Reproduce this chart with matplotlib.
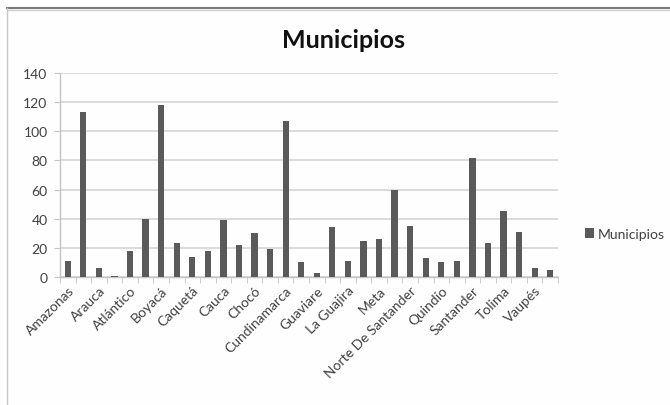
import matplotlib
matplotlib.use("Agg")
import matplotlib.pyplot as plt
from matplotlib.lines import Line2D
from matplotlib.patches import Patch
import numpy as np

departamentos = [
    "Amazonas", "Antioquia", "Arauca", "San Andrés", "Atlántico", "Bolívar",
    "Boyacá", "Caldas", "Caquetá", "Casanare", "Cauca", "Cesar", "Chocó",
    "Córdoba", "Cundinamarca", "Guainía", "Guaviare", "Huila", "La Guajira",
    "Magdalena", "Meta", "Nariño", "Norte De Santander", "Putumayo",
    "Quindío", "Risaralda", "Santander", "Sucre", "Tolima",
    "Valle Del Cauca", "Vaupés", "Vichada",
]
municipios = [
    11, 113, 6, 1, 18, 40,
    118, 23, 14, 18, 39, 22, 30,
    19, 107, 10, 3, 34, 11,
    25, 26, 60, 35, 13,
    10, 11, 82, 23, 45,
    31, 6, 5,
]
serie = "Municipios"
titulo = "Municipios"
y_ticks = [0, 20, 40, 60, 80, 100, 120, 140]

plt.rcParams["font.family"] = ["Lato", "DejaVu Sans"]

BAR = "#5a5a5a"
GRID = "#d4d4d4"
AXIS = "#c4c4c4"
TEXT = "#404040"

fig = plt.figure(figsize=(6.70, 4.06), dpi=100, facecolor="#fefefe")
ax = fig.add_axes([60 / 670, 1 - 278 / 406, 498 / 670, 204 / 406])
ax.set_facecolor("none")

x = np.arange(len(departamentos))
ax.bar(x, municipios, width=0.4, color=BAR, zorder=3, label=serie)

ax.set_xlim(-0.5, len(departamentos) - 0.5)
ax.set_ylim(0, 140)
ax.set_yticks(y_ticks)
ax.tick_params(axis="y", length=4, color=AXIS, labelsize=10, labelcolor=TEXT, pad=5)
ax.yaxis.grid(True, color=GRID, linewidth=1.2, zorder=0)

# labels on every other category, tick marks on category boundaries
ax.set_xticks(x[::2])
ax.set_xticklabels(departamentos[::2], rotation=45, ha="right",
                   rotation_mode="anchor", fontsize=10, color=TEXT)
ax.set_xticks(np.arange(-0.5, len(departamentos)), minor=True)
ax.tick_params(axis="x", which="major", length=0, pad=5)
ax.tick_params(axis="x", which="minor", length=4, color=AXIS)

for side in ("top", "right"):
    ax.spines[side].set_visible(False)
ax.spines["left"].set_color(AXIS)
ax.spines["bottom"].set_color(AXIS)
ax.spines["left"].set_linewidth(1.0)
ax.spines["bottom"].set_linewidth(1.0)

fig.text(343 / 670, 1 - 40 / 406, titulo, ha="center", va="center",
         fontsize=18, fontweight="bold", color="#111111")

handle = Patch(facecolor=BAR, edgecolor="none")
fig.legend([handle], [serie], loc="center left",
           bbox_to_anchor=(572 / 670, 1 - 235 / 406), frameon=False,
           fontsize=10, handlelength=0.65, handleheight=0.65,
           handletextpad=0.3, labelcolor=TEXT)

# chart frame
fig.add_artist(Line2D([7 / 670, 1], [1 - 9 / 406, 1 - 9 / 406],
                      transform=fig.transFigure, color="#7a7a7a", lw=1.5))
fig.add_artist(Line2D([7 / 670, 1], [1 - 10.5 / 406, 1 - 10.5 / 406],
                      transform=fig.transFigure, color="#cfcfcf", lw=1.0))
fig.add_artist(Line2D([7 / 670, 7 / 670], [0, 1 - 9 / 406],
                      transform=fig.transFigure, color="#c8c8c8", lw=1.0))

fig.savefig("out.png", dpi=100, facecolor=fig.get_facecolor())
